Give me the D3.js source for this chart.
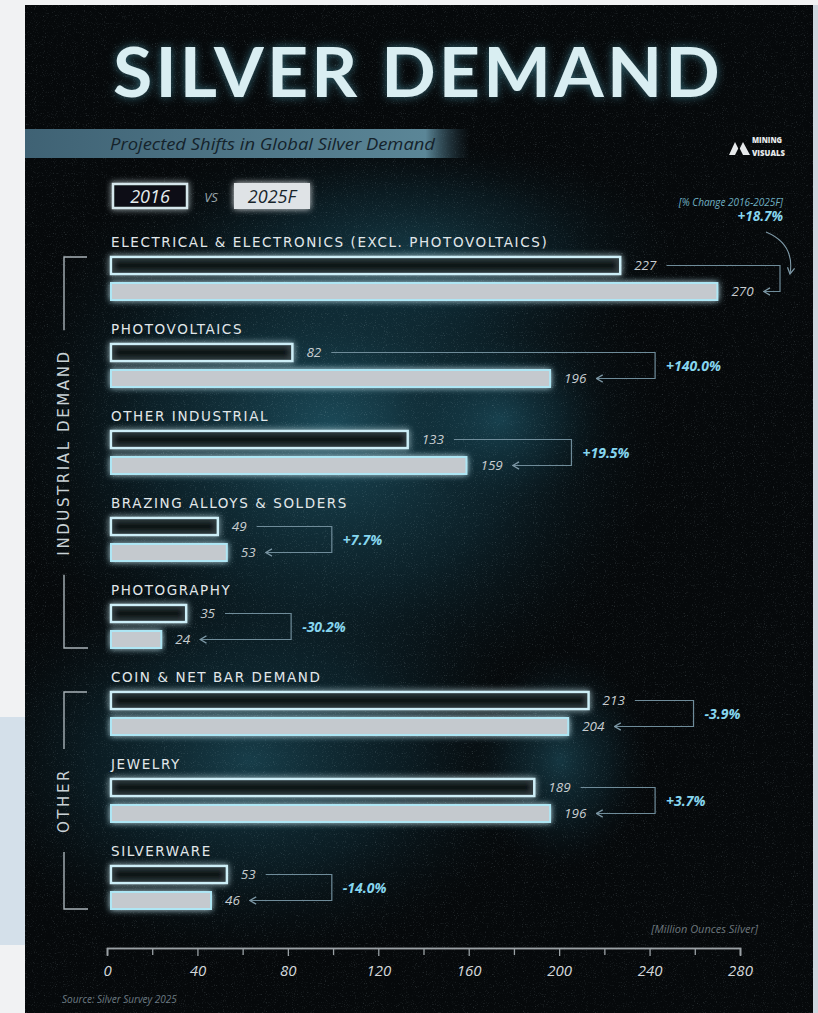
<!DOCTYPE html>
<html>
<head>
<meta charset="utf-8">
<script src="https://cdn.jsdelivr.net/npm/d3@7"></script>
<style>
  body { margin: 0; background: #f1f2f3; overflow: hidden; }
  svg { display: block; }
</style>
</head>
<body>
<svg id="chart" width="818" height="1013"></svg>
<script>
// chart values
var categories = ["ELECTRICAL & ELECTRONICS (EXCL. PHOTOVOLTAICS)", "PHOTOVOLTAICS", "OTHER INDUSTRIAL",
    "BRAZING ALLOYS & SOLDERS", "PHOTOGRAPHY", "COIN & NET BAR DEMAND", "JEWELRY", "SILVERWARE"];
var values2016 = [227, 82, 133, 49, 35, 213, 189, 53];
var values2025 = [270, 196, 159, 53, 24, 204, 196, 46];
var pctChange = ["+18.7%", "+140.0%", "+19.5%", "+7.7%", "-30.2%", "-3.9%", "+3.7%", "-14.0%"];
var groupNames = ["INDUSTRIAL DEMAND", "OTHER"];
var groupFirst = ["ELECTRICAL & ELECTRONICS (EXCL. PHOTOVOLTAICS)", "COIN & NET BAR DEMAND"];
var groupLast = ["PHOTOGRAPHY", "SILVERWARE"];
var xTicks = [0, 40, 80, 120, 160, 200, 240, 280];
var xMinorTicks = [20, 60, 100, 140, 180, 220, 260];

var svg = d3.select('#chart');
var defs = svg.append('defs');

// glow for bars and title
var glow = defs.append('filter').attr('id', 'glow')
    .attr('x', '-10%').attr('y', '-80%').attr('width', '120%').attr('height', '260%');
glow.append('feGaussianBlur').attr('in', 'SourceGraphic').attr('stdDeviation', 3).attr('result', 'blur');
var gm = glow.append('feMerge');
gm.append('feMergeNode').attr('in', 'blur');
gm.append('feMergeNode').attr('in', 'SourceGraphic');

var tglow = defs.append('filter').attr('id', 'titleGlow')
    .attr('x', '-10%').attr('y', '-40%').attr('width', '120%').attr('height', '180%');
tglow.append('feGaussianBlur').attr('in', 'SourceAlpha').attr('stdDeviation', 5).attr('result', 'b');
tglow.append('feFlood').attr('flood-color', '#5fc6e0').attr('flood-opacity', 0.5).attr('result', 'c');
tglow.append('feComposite').attr('in', 'c').attr('in2', 'b').attr('operator', 'in').attr('result', 'g');
var tm = tglow.append('feMerge');
tm.append('feMergeNode').attr('in', 'g');
tm.append('feMergeNode').attr('in', 'SourceGraphic');

// grunge texture
var noise = defs.append('filter').attr('id', 'noise');
noise.append('feTurbulence').attr('type', 'fractalNoise').attr('baseFrequency', 0.9).attr('numOctaves', 2).attr('seed', 3);
noise.append('feColorMatrix').attr('type', 'matrix')
    .attr('values', '0 0 0 0 0.6  0 0 0 0 0.75  0 0 0 0 0.8  0 0 0 1.6 -0.95');

var neb = defs.append('radialGradient').attr('id', 'nebula');
neb.append('stop').attr('offset', '0%').attr('stop-color', '#1f5566').attr('stop-opacity', 0.85);
neb.append('stop').attr('offset', '55%').attr('stop-color', '#123744').attr('stop-opacity', 0.5);
neb.append('stop').attr('offset', '100%').attr('stop-color', '#0a1a20').attr('stop-opacity', 0);

var band = defs.append('linearGradient').attr('id', 'band');
band.append('stop').attr('offset', '0%').attr('stop-color', '#3f6274');
band.append('stop').attr('offset', '90%').attr('stop-color', '#5b8697');
band.append('stop').attr('offset', '100%').attr('stop-color', '#2a4654').attr('stop-opacity', 0);

defs.append('clipPath').attr('id', 'posterClip')
  .append('rect').attr('x', 25).attr('y', 5).attr('width', 788).attr('height', 1008);

defs.append('marker').attr('id', 'arrow').attr('viewBox', '0 0 10 10')
    .attr('refX', 9).attr('refY', 5).attr('markerWidth', 9).attr('markerHeight', 9)
    .attr('orient', 'auto').attr('markerUnits', 'userSpaceOnUse')
  .append('path').attr('d', 'M2,1 L9,5 L2,9').attr('fill', 'none')
    .attr('stroke', '#7d98a6').attr('stroke-width', 1.4);

// outer page bits
svg.append('rect').attr('x', 0).attr('y', 717).attr('width', 25).attr('height', 228).attr('fill', '#d4e0ea');
svg.append('rect').attr('x', 813).attr('y', 5).attr('width', 5).attr('height', 1008).attr('fill', '#cdd6de');

// poster background
var poster = svg.append('g').attr('clip-path', 'url(#posterClip)');
poster.append('rect').attr('x', 25).attr('y', 5).attr('width', 788).attr('height', 1008).attr('fill', '#06090b');
poster.append('ellipse').attr('cx', 330).attr('cy', 430).attr('rx', 330).attr('ry', 300).attr('fill', 'url(#nebula)');
poster.append('ellipse').attr('cx', 250).attr('cy', 760).attr('rx', 290).attr('ry', 200).attr('fill', 'url(#nebula)').attr('opacity', 0.8);
poster.append('ellipse').attr('cx', 420).attr('cy', 250).attr('rx', 260).attr('ry', 110).attr('fill', 'url(#nebula)').attr('opacity', 0.6);
poster.append('ellipse').attr('cx', 500).attr('cy', 420).attr('rx', 110).attr('ry', 90).attr('fill', 'url(#nebula)').attr('opacity', 0.7);
poster.append('ellipse').attr('cx', 560).attr('cy', 760).attr('rx', 90).attr('ry', 110).attr('fill', 'url(#nebula)').attr('opacity', 0.7);
poster.append('rect').attr('x', 25).attr('y', 5).attr('width', 788).attr('height', 1008)
    .attr('filter', 'url(#noise)').attr('opacity', 0.35);

// title
svg.append('text').attr('x', 418).attr('y', 97).attr('text-anchor', 'middle')
    .attr('font-family', 'Lato').attr('font-weight', 700).attr('font-size', 68)
    .attr('letter-spacing', 3).attr('textLength', 610).attr('lengthAdjust', 'spacingAndGlyphs')
    .attr('fill', '#d9eef2').attr('filter', 'url(#titleGlow)')
    .text('SILVER DEMAND');

// subtitle band
svg.append('rect').attr('x', 25).attr('y', 129).attr('width', 445).attr('height', 29).attr('fill', 'url(#band)');
svg.append('text').attr('x', 110).attr('y', 150)
    .attr('font-family', 'Open Sans').attr('font-style', 'italic').attr('font-size', 17)
    .attr('textLength', 325).attr('lengthAdjust', 'spacingAndGlyphs')
    .attr('fill', '#15232b').text('Projected Shifts in Global Silver Demand');

// logo
var logo = svg.append('g').attr('transform', 'translate(729,137)');
logo.append('path').attr('d', 'M0,18 L6,5 L10,13 L14,5 L21,18 Z').attr('fill', '#e6e9eb');
logo.append('path').attr('d', 'M6,18 L10,10 L14,18 Z').attr('fill', '#06090b');
logo.append('text').attr('x', 23).attr('y', 6).attr('font-family', 'Open Sans').attr('font-weight', 800)
    .attr('font-size', 9.5).attr('textLength', 30).attr('lengthAdjust', 'spacingAndGlyphs')
    .attr('fill', '#e6e9eb').text('MINING');
logo.append('text').attr('x', 23).attr('y', 19).attr('font-family', 'Open Sans').attr('font-weight', 800)
    .attr('font-size', 9.5).attr('textLength', 33).attr('lengthAdjust', 'spacingAndGlyphs')
    .attr('fill', '#e6e9eb').text('VISUALS');

// legend
var legend = svg.append('g');
legend.append('rect').attr('x', 113).attr('y', 184).attr('width', 74).attr('height', 24)
    .attr('fill', '#0b1114').attr('stroke', '#d5e6ec').attr('stroke-width', 2.5).attr('filter', 'url(#glow)');
legend.append('text').attr('x', 150).attr('y', 203).attr('text-anchor', 'middle')
    .attr('font-family', 'Open Sans').attr('font-style', 'italic').attr('font-size', 18)
    .attr('fill', '#e4ecef').text('2016');
legend.append('text').attr('x', 211).attr('y', 202).attr('text-anchor', 'middle')
    .attr('font-family', 'Open Sans').attr('font-style', 'italic').attr('font-size', 13)
    .attr('fill', '#9aa6ac').text('VS');
legend.append('rect').attr('x', 234).attr('y', 183).attr('width', 76).attr('height', 26)
    .attr('fill', '#dfe3e6').attr('filter', 'url(#glow)');
legend.append('text').attr('x', 272).attr('y', 203).attr('text-anchor', 'middle')
    .attr('font-family', 'Open Sans').attr('font-style', 'italic').attr('font-size', 18)
    .attr('fill', '#17242b').text('2025F');

svg.append('text').attr('x', 783).attr('y', 206).attr('text-anchor', 'end')
    .attr('font-family', 'Open Sans').attr('font-style', 'italic').attr('font-size', 10)
    .attr('fill', '#6fb0c3').text('[% Change 2016-2025F]');

// scales
var x = d3.scaleLinear().domain([0, 280]).range([107, 740]);
var y = d3.scaleBand().domain(categories).range([228, 924]).paddingInner(0);
var barH = 17, bar1Y = 29, bar2Y = 55;

var rows = svg.selectAll('.row').data(categories).enter().append('g')
    .attr('class', 'row')
    .attr('transform', function(d) { return 'translate(0,' + y(d) + ')'; });

rows.append('text').attr('x', 111).attr('y', 19)
    .attr('font-family', 'DejaVu Sans').attr('font-size', 13.5).attr('letter-spacing', 1.6)
    .attr('fill', '#e2e8eb').text(function(d) { return d; });

rows.append('rect').attr('class', 'b2016')
    .attr('x', x(0) + 4).attr('y', bar1Y)
    .attr('width', function(d, i) { return x(values2016[i]) - x(0) - 4; }).attr('height', barH)
    .attr('fill', '#081014').attr('fill-opacity', 0.85)
    .attr('stroke', '#cdeef7').attr('stroke-width', 2.5).attr('filter', 'url(#glow)');

rows.append('rect').attr('class', 'b2025')
    .attr('x', x(0) + 4).attr('y', bar2Y)
    .attr('width', function(d, i) { return x(values2025[i]) - x(0) - 4; }).attr('height', barH)
    .attr('fill', '#c4c9ce')
    .attr('stroke', '#aee6f4').attr('stroke-width', 2).attr('filter', 'url(#glow)');

var lab1 = rows.append('text').attr('x', function(d, i) { return x(values2016[i]) + 14; })
    .attr('y', bar1Y + barH / 2 + 4)
    .attr('font-family', 'Open Sans').attr('font-style', 'italic').attr('font-size', 13.5)
    .attr('fill', '#c8cdd0').text(function(d, i) { return values2016[i]; });

var lab2 = rows.append('text').attr('x', function(d, i) { return x(values2025[i]) + 14; })
    .attr('y', bar2Y + barH / 2 + 4)
    .attr('font-family', 'Open Sans').attr('font-style', 'italic').attr('font-size', 13.5)
    .attr('fill', '#c8cdd0').text(function(d, i) { return values2025[i]; });

// connectors from 2016 value to 2025 value
rows.each(function(d, i) {
    var g = d3.select(this);
    var w1 = lab1.nodes()[i].getComputedTextLength();
    var w2 = lab2.nodes()[i].getComputedTextLength();
    var startX = x(values2016[i]) + 14 + w1 + 10;
    var tipX = x(values2025[i]) + 14 + w2 + 10;
    var bx = i == 0 ? 780 : x(Math.max(values2016[i], values2025[i])) + 105;
    var y1 = bar1Y + barH / 2, y2 = bar2Y + barH / 2;

    g.append('path')
        .attr('d', 'M' + startX + ',' + y1 + 'H' + bx + 'V' + y2 + 'H' + tipX)
        .attr('fill', 'none').attr('stroke', '#6f8c9a').attr('stroke-width', 1.2)
        .attr('marker-end', 'url(#arrow)');

    if (i == 0) {
        g.append('text').attr('x', 783).attr('y', -7).attr('text-anchor', 'end')
            .attr('font-family', 'Open Sans').attr('font-style', 'italic').attr('font-weight', 700)
            .attr('font-size', 13.5).attr('fill', '#86d6ef').text(pctChange[i]);
        g.append('path').attr('d', 'M766,4 Q795,16 790,46')
            .attr('fill', 'none').attr('stroke', '#7d98a6').attr('stroke-width', 1.1)
            .attr('marker-end', 'url(#arrow)');
    } else {
        g.append('text').attr('x', bx + 11).attr('y', (y1 + y2) / 2 + 5)
            .attr('font-family', 'Open Sans').attr('font-style', 'italic').attr('font-weight', 700)
            .attr('font-size', 14).attr('fill', '#86d6ef').text(pctChange[i]);
    }
});

// group brackets on the left
groupNames.forEach(function(name, k) {
    var top = y(groupFirst[k]) + bar1Y;
    var bottom = y(groupLast[k]) + bar2Y + barH;
    var mid = (top + bottom) / 2;
    var t = svg.append('text')
        .attr('transform', 'translate(64,' + mid + ') rotate(-90)')
        .attr('text-anchor', 'middle').attr('dominant-baseline', 'central')
        .attr('font-family', 'DejaVu Sans').attr('font-size', 15).attr('letter-spacing', 2.6)
        .attr('fill', '#c9d2d6').text(name);
    var half = t.node().getComputedTextLength() / 2 + 19;
    svg.append('path')
        .attr('d', 'M87,' + top + 'H64V' + (mid - half) + 'M64,' + (mid + half) + 'V' + bottom + 'H88')
        .attr('fill', 'none').attr('stroke', '#a9b3b8').attr('stroke-width', 1.4);
});

// axis
var axisG = svg.append('g').attr('transform', 'translate(0,948)');
axisG.call(d3.axisBottom(x).tickValues(xTicks).tickSize(8).tickPadding(9).tickFormat(d3.format('d')));
axisG.append('g').call(d3.axisBottom(x).tickValues(xMinorTicks).tickSize(7).tickFormat(''));
axisG.selectAll('.domain').attr('stroke', '#9aa1a5').attr('stroke-width', 1.5);
axisG.selectAll('.tick line').attr('stroke', '#9aa1a5').attr('stroke-width', 1.3);
axisG.selectAll('.tick text')
    .attr('font-family', 'Open Sans').attr('font-style', 'italic').attr('font-size', 15)
    .attr('fill', '#d3d8db');

svg.append('text').attr('x', 758).attr('y', 933).attr('text-anchor', 'end')
    .attr('font-family', 'Open Sans').attr('font-style', 'italic').attr('font-size', 11)
    .attr('fill', '#6c777d').text('[Million Ounces Silver]');

svg.append('text').attr('x', 62).attr('y', 1003)
    .attr('font-family', 'Open Sans').attr('font-style', 'italic').attr('font-size', 10)
    .attr('fill', '#6d7c84').text('Source: Silver Survey 2025');
</script>
</body>
</html>
